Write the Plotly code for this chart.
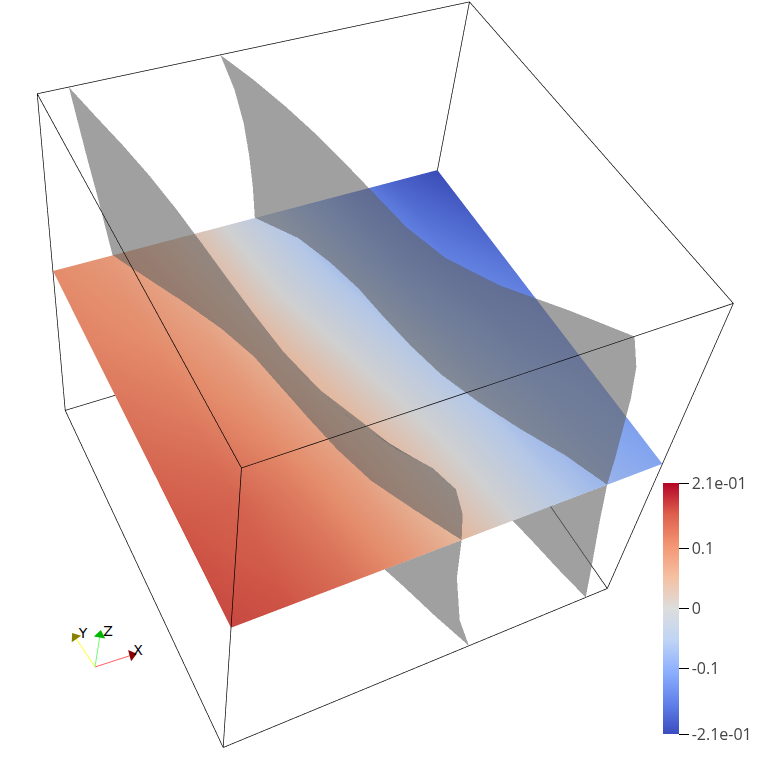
import numpy as np
import plotly.graph_objects as go

# plane colours
plane_x = [0, .125, .25, .375, .5, .625, .75, .875, 1]
plane_y = [0, .25, .5, .75, 1]
plane_val = [
    [.168, .160, .135, .095, .048, .000, -.050, -.085, -.105],
    [.158, .148, .118, .080, .032, -.014, -.065, -.100, -.120],
    [.135, .122, .095, .055, .008, -.040, -.090, -.125, -.145],
    [.115, .102, .075, .030, -.020, -.070, -.120, -.155, -.175],
    [.105, .090, .058, .018, -.035, -.090, -.140, -.180, -.205],
]

# the two grey sheets: x for each z level (rows) and y level (columns)
sheet_y = [0, .1, .2, .3, .4, .5, .6, .7, .8, .9, 1]
sheet_z = [0, .15, .35, .5, .6, .7, .8, .9, 1]
left_x = [
    [.612, .578, .548, .515, .490, .465, .440, .410, .370, .310, .250],
    [.560, .530, .496, .465, .441, .419, .396, .365, .324, .268, .212],
    [.517, .475, .437, .407, .386, .366, .346, .314, .271, .219, .168],
    [.501, .449, .400, .371, .351, .333, .315, .282, .238, .189, .141],
    [.485, .423, .365, .328, .310, .294, .278, .250, .211, .168, .126],
    [.452, .384, .325, .285, .269, .255, .242, .218, .184, .147, .111],
    [.386, .324, .272, .242, .229, .217, .205, .186, .157, .126, .095],
    [.298, .251, .218, .199, .188, .178, .169, .154, .130, .105, .080],
    [.227, .188, .167, .156, .147, .139, .130, .118, .102, .083, .065],
]
right_x = [
    [.937, .917, .900, .880, .860, .840, .820, .800, .780, .750, .700],
    [.913, .886, .858, .830, .805, .784, .765, .747, .726, .695, .639],
    [.879, .844, .800, .760, .728, .705, .688, .673, .650, .617, .554],
    [.856, .815, .761, .714, .676, .653, .637, .624, .600, .565, .497],
    [.848, .803, .746, .697, .660, .638, .622, .609, .585, .551, .487],
    [.837, .787, .726, .675, .639, .618, .603, .589, .566, .533, .473],
    [.826, .767, .699, .647, .612, .593, .577, .563, .540, .509, .455],
    [.808, .736, .661, .605, .572, .555, .540, .525, .503, .474, .429],
    [.773, .694, .607, .546, .516, .502, .488, .472, .451, .425, .393],
]

# box outline
edge_x = [0, 1, 1, 0, 0, None, 0, 1, 1, 0, 0, None, 0, 0, None, 1, 1, None, 1, 1, None, 0, 0]
edge_y = [0, 0, 1, 1, 0, None, 0, 0, 1, 1, 0, None, 0, 0, None, 0, 0, None, 1, 1, None, 1, 1]
edge_z = [0, 0, 0, 0, 0, None, 1, 1, 1, 1, 1, None, 0, 1, None, 0, 1, None, 0, 1, None, 0, 1]

cbar_vals = [-.21, -.1, 0, .1, .21]
cbar_text = ["-2.1e-01", "-0.1", "0", "0.1", "2.1e-01"]

# orientation marker, in picture pixels
triad_names = ["X", "Y", "Z"]
triad_x = [132, 75, 100]
triad_y = [655, 637, 635]
triad_label_x = [138, 83, 108]
triad_label_y = [651, 634, 632]
triad_origin = (95, 667)

coolwarm = [[0, "rgb(59,76,192)"], [.125, "rgb(98,130,234)"], [.25, "rgb(141,176,254)"],
            [.375, "rgb(192,212,245)"], [.5, "rgb(221,221,221)"], [.625, "rgb(245,192,162)"],
            [.75, "rgb(243,150,115)"], [.875, "rgb(222,96,77)"], [1, "rgb(180,4,38)"]]
flat = dict(ambient=1, diffuse=0, specular=0, roughness=1, fresnel=0)
dim = dict(ambient=.94, diffuse=0, specular=0, roughness=1, fresnel=0)
grey = [[0, "rgb(97,97,97)"], [1, "rgb(97,97,97)"]]

fig = go.Figure()

px, py = np.meshgrid(plane_x, plane_y)
fig.add_trace(go.Surface(
    x=px, y=py, z=np.full(px.shape, .5), surfacecolor=np.array(plane_val),
    colorscale=coolwarm, cmin=-.21, cmax=.21, lighting=dim,
    colorbar=dict(x=663/758, xanchor="left", xpad=0, y=(962-734)/1160, yanchor="bottom", ypad=0,
                  len=251, lenmode="pixels", thickness=16, outlinewidth=0,
                  tickmode="array", tickvals=cbar_vals, ticktext=cbar_text, ticks="outside",
                  ticklen=10, tickcolor="black", tickwidth=1,
                  tickfont=dict(family="Open Sans", size=16, color="#444444"))))

sy, sz = np.meshgrid(sheet_y, sheet_z)
for sheet in (left_x, right_x):
    fig.add_trace(go.Surface(
        x=np.array(sheet), y=sy, z=sz, surfacecolor=np.zeros(sy.shape),
        colorscale=grey, cmin=0, cmax=1, showscale=False, opacity=.6, lighting=flat))

fig.add_trace(go.Scatter3d(x=edge_x, y=edge_y, z=edge_z, mode="lines",
                           line=dict(color="black", width=1.4), showlegend=False))

line_cols = ["#ff6060", "#ffff20", "#70ff70"]
tip_cols = ["#8a0000", "#8a8000", "#00b800"]
tip_angle = [75, -35, 10]
for i, name in enumerate(triad_names):
    fig.add_trace(go.Scatter(x=[triad_origin[0], triad_x[i]], y=[triad_origin[1], triad_y[i]],
                             mode="lines", line=dict(color=line_cols[i], width=1), showlegend=False))
    fig.add_trace(go.Scatter(x=[triad_x[i]], y=[triad_y[i]], mode="markers",
                             marker=dict(symbol="triangle-up", size=10, color=tip_cols[i], angle=tip_angle[i]),
                             cliponaxis=False, showlegend=False))
    fig.add_trace(go.Scatter(x=[triad_label_x[i]], y=[triad_label_y[i]], mode="text", text=[name],
                             textposition="middle center",
                             textfont=dict(family="DejaVu Sans", size=14, color="black"),
                             cliponaxis=False, showlegend=False))

hidden = dict(visible=False, range=[0, 1])
# box kept small: plotly's near plane is fixed, so this gives the depth buffer more room
fig.update_layout(
    width=758, height=1160, margin=dict(l=0, r=0, t=0, b=0), showlegend=False,
    paper_bgcolor="white", plot_bgcolor="rgba(0,0,0,0)",
    xaxis=dict(visible=False, range=[0, 758], domain=[0, 1]),
    yaxis=dict(visible=False, range=[962, -198], domain=[0, 1]),
    scene=dict(
        domain=dict(x=[0, 1], y=[0, 1]), xaxis=hidden, yaxis=hidden, zaxis=hidden,
        aspectmode="manual", aspectratio=dict(x=.1, y=.10015, z=.09959), dragmode="orbit",
        camera=dict(eye=dict(x=-.11087, y=-.17083, z=.23024), center=dict(x=.02091, y=.01768, z=-.03441),
                    up=dict(x=.4617, y=.8295, z=-.2448))))

# plotly's fov is fixed at 45 deg, so the page is taller than the window to get the flatter view
fig.write_html("out.html", post_script="document.documentElement.style.overflow='hidden';"
                                       "document.body.style.overflow='hidden';"
                                       "document.body.style.margin='-198px 0 0 0';")
